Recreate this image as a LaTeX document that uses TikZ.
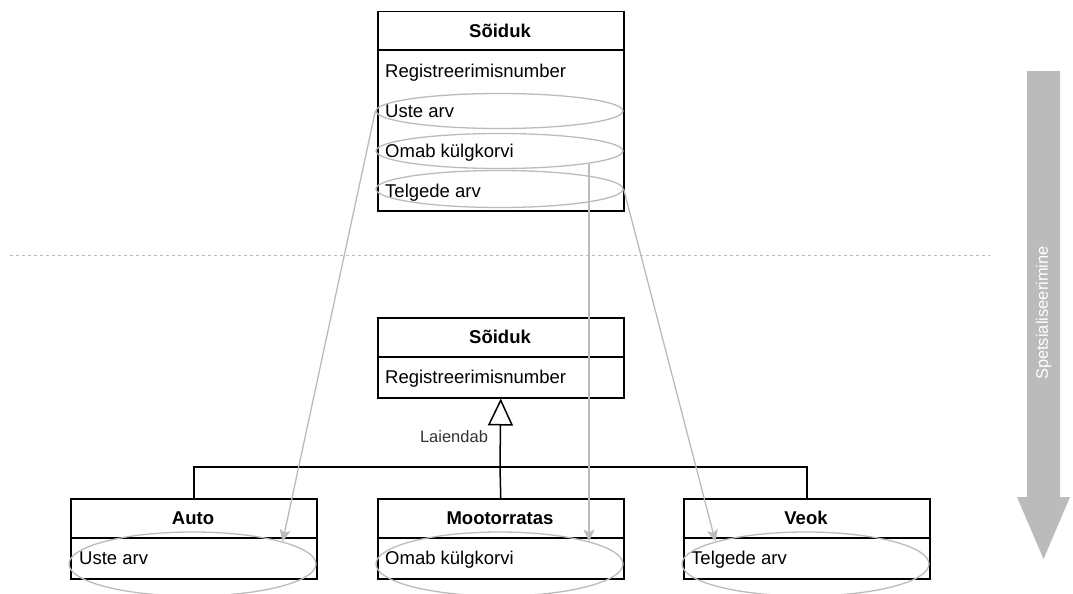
\documentclass[tikz,border=0pt]{standalone}
\usepackage{fontspec}
\setmainfont{Liberation Sans}
\usetikzlibrary{shapes.geometric,arrows.meta}
\definecolor{lg}{HTML}{BBBBBB}
\definecolor{lbl}{HTML}{333333}
\begin{document}
\begin{tikzpicture}[x=1pt,y=-1pt,
  umlbox/.style={draw=black,line width=1.5pt,minimum width=246pt,inner sep=0pt,anchor=north west},
  ttl/.style={font=\fontsize{18.5}{21}\selectfont\bfseries,inner sep=0pt,anchor=base},
  attr/.style={font=\fontsize{18.5}{21}\selectfont,inner sep=0pt,anchor=base west},
  sel/.style={ellipse,draw=lg,line width=1.3pt,minimum width=247pt,inner sep=0pt},
  garrow/.style={draw=lg,line width=1.3pt,-{Stealth[length=12pt,width=11pt,inset=3pt]}},
  conn/.style={draw=black,line width=1.5pt},
  gen/.style={conn,-{Triangle[open,length=27pt,width=25pt]}}]
\useasboundingbox (0,0) rectangle (1073,594);
% top box
\node[umlbox,minimum height=199pt] (top) at (377,11) {};
\draw[conn] (377,50) -- (623,50);
\node[ttl] (topT) at (500,37.5) {Sõiduk};
\node[attr] (topA1) at (385,77.5) {Registreerimisnumber};
\node[attr] (topA2) at (385,117.5) {Uste arv};
\node[attr] (topA3) at (385,157.5) {Omab külgkorvi};
\node[attr] (topA4) at (385,197) {Telgede arv};
\node[sel,minimum height=35pt] (e1) at (499.5,111) {};
\node[sel,minimum height=35pt] (e2) at (499.5,151) {};
\node[sel,minimum height=37pt] (e3) at (499.5,189) {};
% dashed separator
\coordinate (dl) at (10,255);
\coordinate (dr) at (990,255);
\draw[lg,line width=1pt,dash pattern=on 3pt off 3pt] (dl) -- (dr);
% middle box
\node[umlbox,minimum height=80pt] (mid) at (377,317) {};
\draw[conn] (377,357) -- (623,357);
\node[ttl] (midT) at (500,343.5) {Sõiduk};
\node[attr] (midA1) at (385,383.5) {Registreerimisnumber};
% bottom boxes
\node[umlbox,minimum height=80pt] (auto) at (70,498) {};
\draw[conn] (70,538) -- (316,538);
\node[ttl] (autoT) at (193,524.5) {Auto};
\node[attr] (autoA) at (79,564.5) {Uste arv};
\node[umlbox,minimum height=80pt] (moto) at (377,498) {};
\draw[conn] (377,538) -- (623,538);
\node[ttl] (motoT) at (500,524.5) {Mootorratas};
\node[attr] (motoA) at (385,564.5) {Omab külgkorvi};
\node[umlbox,minimum height=80pt] (veok) at (683,498) {};
\draw[conn] (683,538) -- (929,538);
\node[ttl] (veokT) at (806,524.5) {Veok};
\node[attr] (veokA) at (691,564.5) {Telgede arv};
\node[sel,minimum height=64pt] (be1) at (192.5,564) {};
\node[sel,minimum height=64pt] (be2) at (499.5,564) {};
\node[sel,minimum height=64pt] (be3) at (805.5,564) {};
% generalization
\coordinate (j) at (500,467);
\draw[conn] (auto.north) |- (j) -| (veok.north);
\draw[conn] (moto.north) -- (j);
\draw[gen] (j) -- (mid.south);
\node[font=\fontsize{16.5}{19}\selectfont,text=lbl,inner sep=0pt] (lab) at (454,437) {Laiendab};
% grey arrows
\draw[garrow] (e1.west) -- (be1.14);
\draw[garrow] (e2.-8.2) -- (e2.-8.2 |- be2.14);
\draw[garrow] (e3.east) -- (be3.166);
% big arrow
\fill[lg] (1027,71) -- (1060,71) -- (1060,497) -- (1070,497) -- (1043.5,559) -- (1017,497) -- (1027,497) -- cycle;
\node[font=\fontsize{16.5}{19}\selectfont,text=white,rotate=90,inner sep=0pt] (spec) at (1043.5,313) {Spetsialiseerimine};
\end{tikzpicture}
\end{document}
